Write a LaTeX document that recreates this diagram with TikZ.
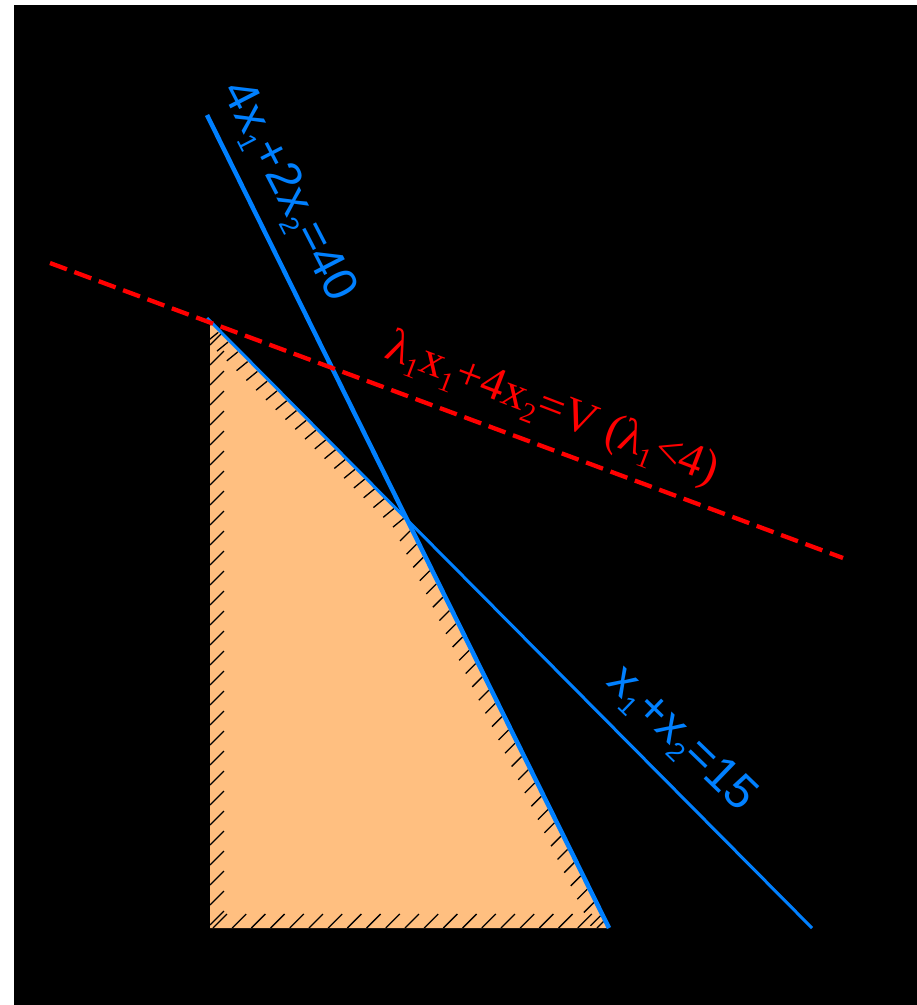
\documentclass[tikz,border=0pt]{standalone}
\usepackage{fontspec}
\setmainfont{Liberation Serif}
\newfontfamily\lpsans{Liberation Sans}
\usetikzlibrary{calc}
\definecolor{lpblue}{RGB}{0,128,255}
\definecolor{lporange}{RGB}{255,191,128}
\definecolor{lpred}{RGB}{255,0,0}
\newcommand\lpsub[1]{\raisebox{-0.2em}{\scalebox{0.55}{#1}}}
\newcommand\lprsub[1]{\raisebox{-0.2em}{\scalebox{0.6}{#1}}}
\tikzset{
  hatchline/.style={black, line width=1.3pt},
  thickblue/.style={lpblue, line width=4.5pt},
  thinblue/.style={lpblue, line width=3pt},
  reddash/.style={lpred, line width=4.3pt, dash pattern=on 18pt off 8pt},
  bluelabel/.style={lpblue, inner sep=0pt, font=\lpsans\fontsize{48}{48}\selectfont},
  redlabel/.style={lpred, inner sep=0pt, font=\fontsize{47}{47}\selectfont},
}
\begin{document}
\begin{tikzpicture}[x=1pt,y=-1pt]
\useasboundingbox (0,0) rectangle (917,1005);
\fill[black] (14,5) rectangle (917,1005);
% key points
\coordinate (A) at (210,321);
\coordinate (B) at (210,928);
\coordinate (C) at (609,928);
\coordinate (D) at (405.5,516.6);
\coordinate (t1) at (207,115);
\coordinate (t2) at (609,928);
\coordinate (s1) at (207,318);
\coordinate (s2) at (812,928);
\coordinate (r1) at (50,263);
\coordinate (r2) at (843,558);
% feasible region
\fill[lporange] (A) -- (B) -- (C) -- (D) -- cycle;
\begin{scope}
  \clip (A) -- (B) -- (C) -- (D) -- cycle;
  \foreach \y in {925,905,...,325} \draw[hatchline] (210,\y) -- ++(14,-14);
  \foreach \x in {213,232.2,...,612} \draw[hatchline] (\x,928) -- ++(14,-14);
  \foreach \i in {1,...,31} \draw[hatchline] ($(D)!{\i/31}!(C)$) ++(-2,1) -- ++(-10,10);
  \foreach \i in {1,...,20} \draw[hatchline] ($(A)!{\i/20}!(D)$) ++(-1.5,1.5) -- ++(-11,9);
\end{scope}
% constraint lines
\draw[thickblue] (t1) -- (t2);
\draw[thinblue] (s1) -- (s2);
% objective line
\draw[reddash] (r1) -- (r2);
% labels
\node[bluelabel, rotate=-62.7] (l1) at (287,192) {4x\lpsub{1}+2x\lpsub{2}=40};
\node[bluelabel, rotate=-44] (l2) at (681,740) {x\lpsub{1}+x\lpsub{2}=15};
\node[redlabel, rotate=-21] (l3) at (552,410) {λ\lprsub{1}x\lprsub{1}+4x\lprsub{2}=V (λ\lprsub{1}<4)};
\end{tikzpicture}
\end{document}
